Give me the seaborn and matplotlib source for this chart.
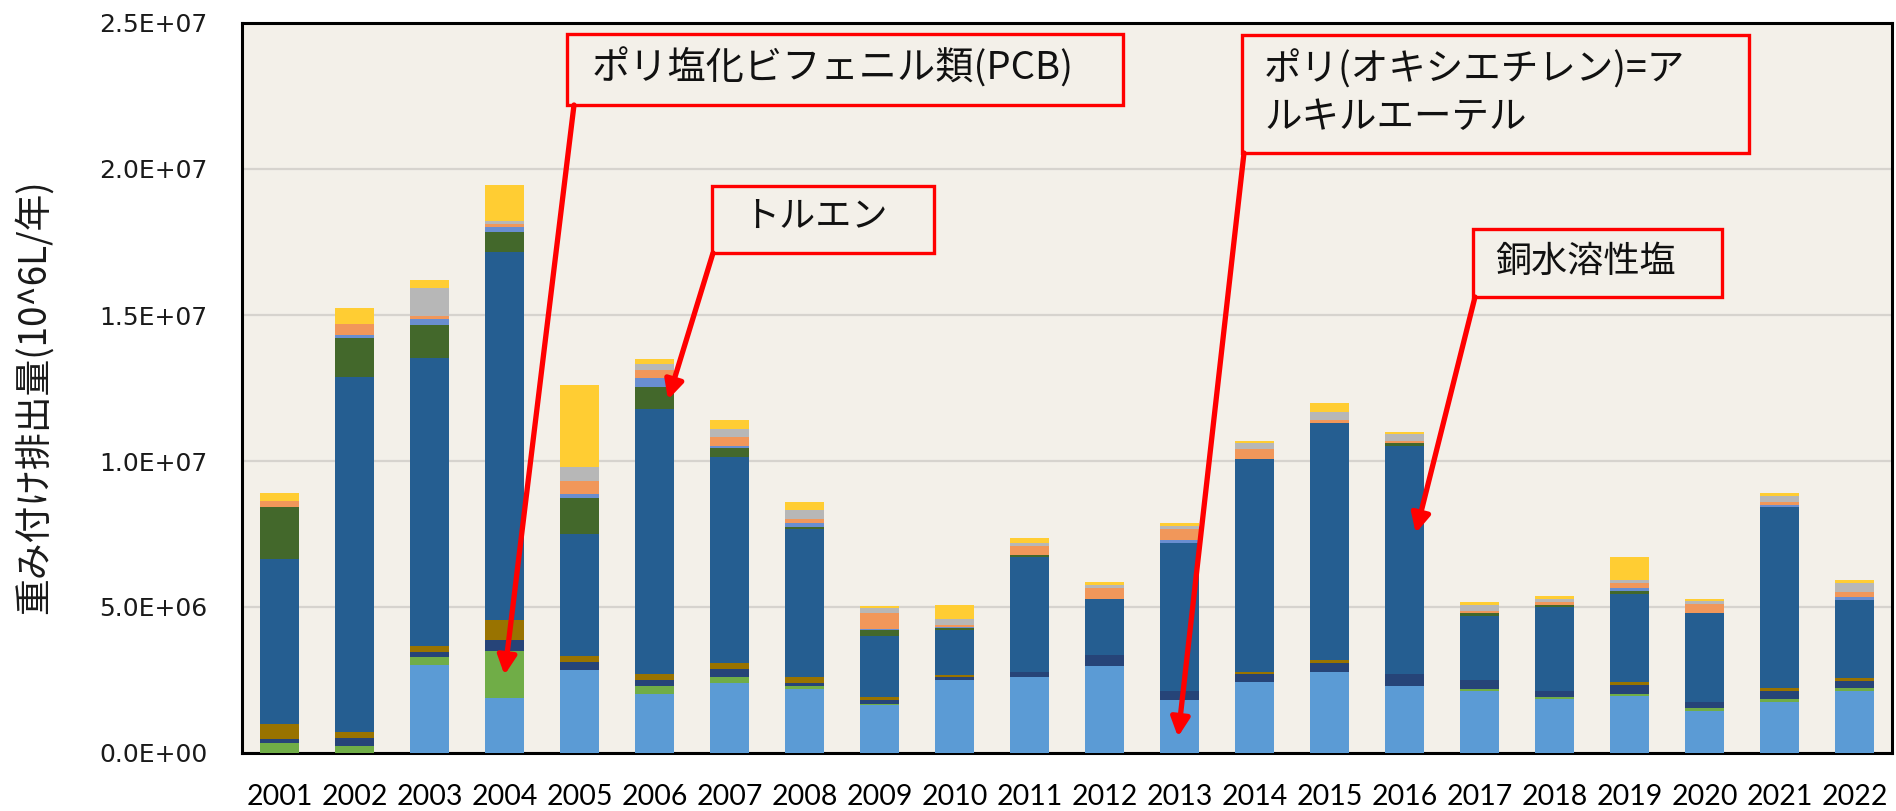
import pandas as pd
import matplotlib
matplotlib.use("Agg")
import matplotlib.pyplot as plt
from matplotlib.patches import Rectangle
from matplotlib.ticker import FuncFormatter, MultipleLocator
import seaborn as sns

# DATA (values in units of 1e6 L/year)
years = [str(y) for y in range(2001, 2023)]

poe_ether = [0, 0, 3.01, 1.88, 2.84, 2.02, 2.40, 2.20, 1.64, 2.51, 2.60,
             2.99, 1.83, 2.42, 2.79, 2.31, 2.11, 1.85, 1.94, 1.45, 1.75, 2.11]
pcb = [0.35, 0.23, 0.28, 1.60, 0, 0.29, 0.19, 0.10, 0.03, 0, 0,
       0, 0, 0, 0, 0, 0.09, 0.08, 0.08, 0.09, 0.09, 0.10]
navy = [0.14, 0.27, 0.18, 0.39, 0.27, 0.18, 0.29, 0.09, 0.15, 0.08, 0.18,
        0.37, 0.29, 0.27, 0.29, 0.40, 0.29, 0.19, 0.30, 0.21, 0.27, 0.27]
brown = [0.50, 0.21, 0.21, 0.67, 0.20, 0.22, 0.21, 0.21, 0.09, 0.09, 0,
         0, 0, 0.09, 0.10, 0, 0, 0, 0.10, 0, 0.10, 0.10]
copper = [5.66, 12.15, 9.84, 12.62, 4.20, 9.08, 7.05, 5.06, 2.11, 1.52, 3.93,
          1.92, 5.08, 7.28, 8.13, 7.82, 2.19, 2.88, 3.04, 3.05, 6.20, 2.67]
toluene = [1.79, 1.35, 1.15, 0.67, 1.24, 0.74, 0.29, 0.09, 0.18, 0.09, 0.08,
           0, 0, 0, 0, 0.08, 0.10, 0.08, 0.09, 0, 0, 0]
blue2 = [0, 0.10, 0.18, 0.18, 0.12, 0.30, 0.10, 0.11, 0.03, 0.03, 0,
         0, 0.08, 0, 0, 0, 0, 0, 0.09, 0, 0.10, 0.10]
orange = [0.20, 0.37, 0.10, 0.10, 0.44, 0.29, 0.29, 0.17, 0.55, 0.07, 0.29,
          0.37, 0.38, 0.35, 0.08, 0.09, 0.09, 0.09, 0.18, 0.29, 0.10, 0.18]
gray = [0, 0, 0.96, 0.10, 0.48, 0.19, 0.29, 0.30, 0.19, 0.19, 0.11,
        0.10, 0.11, 0.19, 0.29, 0.21, 0.21, 0.10, 0.11, 0.10, 0.19, 0.30]
yellow = [0.28, 0.57, 0.28, 1.24, 2.80, 0.19, 0.29, 0.27, 0.08, 0.48, 0.17,
          0.10, 0.09, 0.10, 0.30, 0.10, 0.09, 0.09, 0.78, 0.09, 0.09, 0.09]

# bottom -> top
series_names = ['ポリ(オキシエチレン)=アルキルエーテル', 'ポリ塩化ビフェニル類(PCB)', 'navy', 'brown',
                '銅水溶性塩', 'トルエン', 'blue2', 'orange', 'gray', 'yellow']
series_values = [poe_ether, pcb, navy, brown, copper, toluene, blue2, orange, gray, yellow]
series_colors = ['#5B9BD5', '#70AD47', '#264478', '#997300', '#255E91',
                 '#43682B', '#698ED0', '#F1975A', '#B7B7B7', '#FFCD33']

df = pd.DataFrame(dict(zip(series_names, series_values)), index=years) * 1e6
cum = df.cumsum(axis=1)

# STYLE
sns.set_theme(style="white")
plt.rcParams['font.family'] = ['DejaVu Sans', 'Noto Sans CJK JP']

W, H = 1896, 811
fig = plt.figure(figsize=(W / 100, H / 100), dpi=100)
fig.patch.set_facecolor('white')
ax = fig.add_axes([242 / W, 1 - 753 / H, 1650 / W, 730 / H])
ax.set_facecolor('#F3F0E9')

# stacked bars: draw cumulative totals from the top layer down
for name, color in reversed(list(zip(series_names, series_colors))):
    sns.barplot(x=years, y=cum[name].values, color=color, saturation=1,
                width=0.52, linewidth=0, ax=ax, zorder=3)

ax.set_xlim(-0.5, len(years) - 0.5)
ax.set_ylim(0, 2.5e7)
ax.yaxis.set_major_locator(MultipleLocator(5e6))
ax.yaxis.set_major_formatter(FuncFormatter(lambda v, p: f"{v:.1E}"))
ax.grid(axis='y', color='#D6D3CE', linewidth=1.6, zorder=0)
ax.set_axisbelow(True)
ax.set_xlabel('')
ax.set_ylabel('')

for s in ax.spines.values():
    s.set_visible(True)
    s.set_color('black')
    s.set_linewidth(2.2)

ax.tick_params(axis='y', length=0, pad=25, labelsize=18, labelcolor='#1a1a1a')
ax.tick_params(axis='x', length=0, pad=22, labelsize=20.5, labelcolor='black')
for lab in ax.get_xticklabels():
    lab.set_family(['Lato', 'DejaVu Sans'])

fig.text(34 / W, 1 - 397 / H, '重み付け排出量(10^6L/年)', rotation=90,
         ha='center', va='center', fontsize=26.5,
         family=['Noto Sans CJK JP', 'DejaVu Sans'], color='#1a1a1a')

# CALLOUTS (box in figure pixels, arrow tip at the bar segment)
jp = ['Noto Sans CJK JP', 'DejaVu Sans']


def callout(box, lines, text_x, text_ys, start, tip, size=26):
    x0, y0, x1, y1 = box
    fig.add_artist(Rectangle((x0 / W, 1 - y1 / H), (x1 - x0) / W, (y1 - y0) / H,
                             transform=fig.transFigure, fill=False,
                             edgecolor='red', linewidth=2.4, zorder=5))
    for line, ty in zip(lines, text_ys):
        fig.text(text_x / W, 1 - ty / H, line, ha='left', va='center',
                 fontsize=size, family=jp, color='#111111', zorder=6)
    ax.annotate('', xy=tip, xycoords='data',
                xytext=(start[0], H - start[1]), textcoords='figure pixels',
                arrowprops=dict(arrowstyle='-|>', color='red', lw=3.8,
                                mutation_scale=28, shrinkA=0, shrinkB=0),
                zorder=7, annotation_clip=False)


callout((567, 34, 1123, 105), ['ポリ塩化ビフェニル類(PCB)'], 592, [68],
        (574, 105), (3.0, 2.67e6), size=27.5)
callout((712, 186, 934, 253), ['トルエン'], 743, [217],
        (713, 253), (5.18, 1.21e7))
callout((1242, 35, 1749, 153), ['ポリ(オキシエチレン)=ア', 'ルキルエーテル'], 1264, [70, 118],
        (1244, 153), (11.98, 5.5e5), size=27)
callout((1473, 229, 1722, 297), ['銅水溶性塩'], 1495, [262],
        (1475, 297), (15.15, 7.53e6))

fig.savefig('out.png', dpi=100, facecolor='white')
print("saved out.png")
